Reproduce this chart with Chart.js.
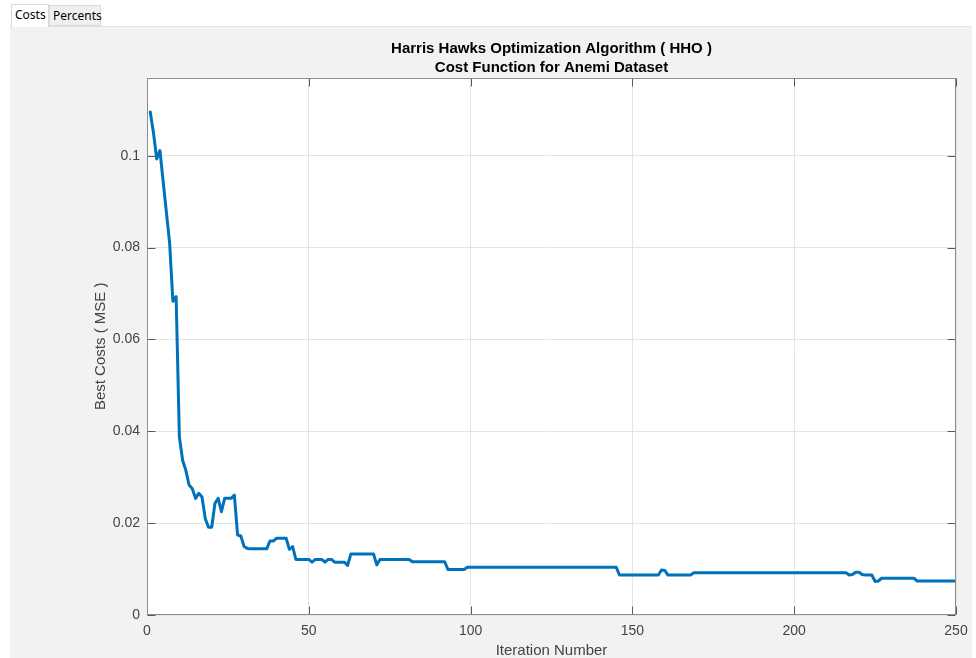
<!DOCTYPE html>
<html><head><meta charset="utf-8">
<script src="https://cdn.jsdelivr.net/npm/chart.js@4.4.1/dist/chart.umd.min.js"></script>
<style>
html,body{margin:0;padding:0;background:#fff;width:976px;height:658px;overflow:hidden;}
.tab{position:absolute;box-sizing:border-box;font-family:"Noto Sans","Open Sans",sans-serif;font-size:12px;line-height:19px;color:#000;padding-left:3px;white-space:nowrap;}
#t1{left:11px;top:4px;width:38px;height:23px;background:#fff;border:1px solid #dadada;border-bottom:none;z-index:2;}
#t2{left:49px;top:5px;width:52px;height:21px;background:#f0f0f0;border:1px solid #dadada;}
#panel{position:absolute;left:10px;top:26px;width:962px;height:632px;background:#f2f2f2;}
#line{position:absolute;left:10px;top:26px;width:962px;height:1px;background:#e2e2e2;}
canvas{position:absolute;left:0;top:0;}
</style>
</head><body>
<div class="tab" id="t1">Costs</div>
<div class="tab" id="t2">Percents</div>
<div id="panel"><canvas id="c" width="962" height="632"></canvas></div>
<div id="line"></div>
<script>
// ---- data ----
const iterations = Array.from({length: 250}, (_, i) => i + 1);
const bestCosts = [
  0.1095, 0.1050, 0.0993, 0.1011, 0.0943, 0.0876, 0.0809, 0.0683, 0.0693, 0.0388,
  0.0337, 0.0315, 0.0283, 0.0275, 0.0254, 0.0265, 0.0257, 0.0210, 0.0191, 0.0191,
  0.0243, 0.0254, 0.0225, 0.0254, 0.0254, 0.0254, 0.0261, 0.0174, 0.0172, 0.0149,
  0.0145, 0.0144, 0.0144, 0.0144, 0.0144, 0.0144, 0.0144, 0.0161, 0.0161, 0.0167,
  0.0167, 0.0167, 0.0167, 0.0143, 0.0149, 0.0121, 0.0121, 0.0121, 0.0121, 0.0121,
  0.0115, 0.0121, 0.0121, 0.0121, 0.0115, 0.0121, 0.0121, 0.0115, 0.0115, 0.0115,
  0.0115, 0.0108, 0.0133, 0.0133, 0.0133, 0.0133, 0.0133, 0.0133, 0.0133, 0.0133,
  0.0109, 0.0121, 0.0121, 0.0121, 0.0121, 0.0121, 0.0121, 0.0121, 0.0121, 0.0121,
  0.0121, 0.0116, 0.0116, 0.0116, 0.0116, 0.0116, 0.0116, 0.0116, 0.0116, 0.0116,
  0.0116, 0.0116, 0.0099, 0.0099, 0.0099, 0.0099, 0.0099, 0.0099, 0.0104, 0.0104,
  0.0104, 0.0104, 0.0104, 0.0104, 0.0104, 0.0104, 0.0104, 0.0104, 0.0104, 0.0104,
  0.0104, 0.0104, 0.0104, 0.0104, 0.0104, 0.0104, 0.0104, 0.0104, 0.0104, 0.0104,
  0.0104, 0.0104, 0.0104, 0.0104, 0.0104, 0.0104, 0.0104, 0.0104, 0.0104, 0.0104,
  0.0104, 0.0104, 0.0104, 0.0104, 0.0104, 0.0104, 0.0104, 0.0104, 0.0104, 0.0104,
  0.0104, 0.0104, 0.0104, 0.0104, 0.0104, 0.0087, 0.0087, 0.0087, 0.0087, 0.0087,
  0.0087, 0.0087, 0.0087, 0.0087, 0.0087, 0.0087, 0.0087, 0.0087, 0.0098, 0.0097,
  0.0087, 0.0087, 0.0087, 0.0087, 0.0087, 0.0087, 0.0087, 0.0087, 0.0092, 0.0092,
  0.0092, 0.0092, 0.0092, 0.0092, 0.0092, 0.0092, 0.0092, 0.0092, 0.0092, 0.0092,
  0.0092, 0.0092, 0.0092, 0.0092, 0.0092, 0.0092, 0.0092, 0.0092, 0.0092, 0.0092,
  0.0092, 0.0092, 0.0092, 0.0092, 0.0092, 0.0092, 0.0092, 0.0092, 0.0092, 0.0092,
  0.0092, 0.0092, 0.0092, 0.0092, 0.0092, 0.0092, 0.0092, 0.0092, 0.0092, 0.0092,
  0.0092, 0.0092, 0.0092, 0.0092, 0.0092, 0.0092, 0.0087, 0.0088, 0.0093, 0.0093,
  0.0088, 0.0087, 0.0087, 0.0087, 0.0073, 0.0074, 0.0080, 0.0080, 0.0080, 0.0080,
  0.0080, 0.0080, 0.0080, 0.0080, 0.0080, 0.0080, 0.0080, 0.0074, 0.0074, 0.0074,
  0.0074, 0.0074, 0.0074, 0.0074, 0.0074, 0.0074, 0.0074, 0.0074, 0.0074, 0.0074
];
const xTicks = [0, 50, 100, 150, 200, 250];
const yTicks = [0, 0.02, 0.04, 0.06, 0.08, 0.1];
const titleLines = ['Harris Hawks Optimization Algorithm ( HHO )', 'Cost Function for Anemi Dataset'];
const xLabel = 'Iteration Number';
const yLabel = 'Best Costs ( MSE )';

const FONT = '"Liberation Sans", Arial, Helvetica, sans-serif';

const plotBg = {
  id: 'plotBg',
  beforeDraw(chart) {
    const {ctx, chartArea: a} = chart;
    ctx.save();
    ctx.fillStyle = '#ffffff';
    ctx.fillRect(a.left, a.top, a.right - a.left, a.bottom - a.top);
    ctx.restore();
  }
};

const boxTicks = {
  id: 'boxTicks',
  afterDraw(chart) {
    const {ctx, chartArea: a, scales: {x, y}} = chart;
    const L = Math.round(a.left) + 0.5, R = Math.round(a.right) - 0.5;
    const T = Math.round(a.top) + 0.5, B = Math.round(a.bottom) - 0.5;
    ctx.save();
    ctx.lineWidth = 1;
    ctx.strokeStyle = '#5a5a5a';
    ctx.beginPath();
    const len = 8;
    xTicks.forEach(v => {
      const px = Math.round(x.getPixelForValue(v)) + 0.5;
      ctx.moveTo(px, B); ctx.lineTo(px, B - len);
      ctx.moveTo(px, T); ctx.lineTo(px, T + len);
    });
    yTicks.forEach(v => {
      const py = Math.round(y.getPixelForValue(v)) + 0.5;
      ctx.moveTo(L, py); ctx.lineTo(L + len, py);
      ctx.moveTo(R, py); ctx.lineTo(R - len, py);
    });
    ctx.stroke();
    ctx.strokeStyle = '#8c8c8c';
    ctx.strokeRect(L, T, R - L, B - T);
    ctx.restore();
  }
};

new Chart(document.getElementById('c'), {
  type: 'line',
  data: {
    datasets: [{
      data: iterations.map((it, i) => ({x: it, y: bestCosts[i]})),
      borderColor: '#0072BD',
      borderWidth: 3,
      pointRadius: 0,
      tension: 0,
      fill: false,
      borderJoinStyle: 'round',
      borderCapStyle: 'round'
    }]
  },
  options: {
    responsive: false,
    animation: false,
    layout: {padding: {left: 0, right: 0, top: 0, bottom: 0}},
    plugins: {
      legend: {display: false},
      tooltip: {enabled: false},
      title: {
        display: true,
        text: titleLines,
        fullSize: false,
        color: '#000',
        font: {family: FONT, size: 15, weight: 'bold', lineHeight: 1.22},
        padding: {top: 14, bottom: 1}
      }
    },
    scales: {
      x: {
        type: 'linear',
        min: 0, max: 250,
        afterBuildTicks: s => { s.ticks = xTicks.map(v => ({value: v})); },
        afterFit: s => { s.height = 43; s.paddingRight = 16; s.paddingLeft = 0; },
        grid: {color: '#e4e4e4', drawTicks: false},
        border: {display: false},
        ticks: {color: '#444', padding: 8, font: {family: FONT, size: 14}, maxRotation: 0,
          callback: v => String(v)},
        title: {display: true, text: xLabel, color: '#444', font: {family: FONT, size: 15, lineHeight: 1}, padding: {top: 0, bottom: 0}}
      },
      y: {
        type: 'linear',
        min: 0, max: 0.117,
        afterBuildTicks: s => { s.ticks = yTicks.map(v => ({value: v})); },
        afterFit: s => { s.width = 137; s.paddingTop = 0; s.paddingBottom = 0; },
        grid: {color: '#e4e4e4', drawTicks: false},
        border: {display: false},
        ticks: {color: '#444', padding: 7, font: {family: FONT, size: 14},
          callback: v => String(+v.toFixed(2))},
        title: {display: true, text: yLabel, color: '#444', font: {family: FONT, size: 15, lineHeight: 1.2}, padding: {top: 82, bottom: 0}}
      }
    }
  },
  plugins: [plotBg, boxTicks]
});
</script>
</body></html>
